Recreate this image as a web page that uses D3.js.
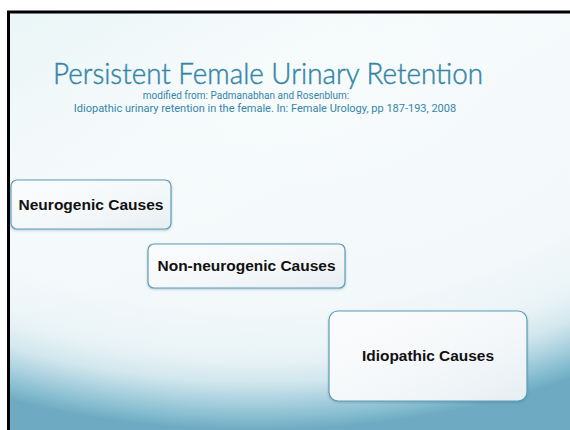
<!DOCTYPE html>
<html>
<head>
<meta charset="utf-8">
<script src="https://cdn.jsdelivr.net/npm/d3@7"></script>
<style>
  html, body { margin: 0; padding: 0; background: #fff; }
  svg { display: block; }
</style>
</head>
<body>
<svg id="slide" width="570" height="430"></svg>
<script>
"use strict";

// Slide texts
var title = "Persistent Female Urinary Retention";
var sourceLines = [
  "modified from: Padmanabhan and Rosenblum:",
  "Idiopathic urinary retention in the female. In: Female Urology, pp 187-193, 2008"
];
var causes = ["Neurogenic Causes", "Non-neurogenic Causes", "Idiopathic Causes"];

// Box layout (left, top, right, bottom), kept apart from the labels
var boxLeft = [11, 148, 329];
var boxTop = [180, 244, 311];
var boxRight = [171, 345, 527];
var boxBottom = [229, 288, 401];
var boxRadius = [6, 6, 9];

var svg = d3.select("#slide");
var defs = svg.append("defs");

// background: pale ellipse with blue sweeping round the bottom
var bg = defs.append("radialGradient")
  .attr("id", "bg")
  .attr("gradientUnits", "userSpaceOnUse")
  .attr("cx", 255).attr("cy", 30).attr("r", 400)
  .attr("gradientTransform", "translate(255,30) scale(1.6,1) translate(-255,-30)");
[[0, "#f7fbfc"], [0.7, "#f3f8fa"], [0.82, "#e9f3f6"], [0.88, "#d2e7ee"],
 [0.93, "#a9d0de"], [0.97, "#86bdd0"], [1, "#6eabc2"]].forEach(function(s) {
  bg.append("stop").attr("offset", s[0]).attr("stop-color", s[1]);
});

// faint cyan tint in the top left corner
var tint = defs.append("linearGradient")
  .attr("id", "tint")
  .attr("x1", 0).attr("y1", 0).attr("x2", 0.6).attr("y2", 0.6);
tint.append("stop").attr("offset", 0).attr("stop-color", "#e6f4f5").attr("stop-opacity", 0.8);
tint.append("stop").attr("offset", 1).attr("stop-color", "#ffffff").attr("stop-opacity", 0);

var boxFill = defs.append("linearGradient")
  .attr("id", "boxFill")
  .attr("x1", 0).attr("y1", 0).attr("x2", 1).attr("y2", 1);
boxFill.append("stop").attr("offset", 0).attr("stop-color", "#fbfcfd");
boxFill.append("stop").attr("offset", 0.6).attr("stop-color", "#f4f7f9");
boxFill.append("stop").attr("offset", 1).attr("stop-color", "#e6eef2");

var shadow = defs.append("filter").attr("id", "shadow")
  .attr("x", "-10%").attr("y", "-10%").attr("width", "120%").attr("height", "130%");
shadow.append("feDropShadow")
  .attr("dx", 0).attr("dy", 1).attr("stdDeviation", 0.8)
  .attr("flood-color", "#2a5a70").attr("flood-opacity", 0.3);

svg.append("rect")
  .attr("x", 9).attr("y", 12).attr("width", 561).attr("height", 418)
  .attr("fill", "url(#bg)");
svg.append("rect")
  .attr("x", 9).attr("y", 12).attr("width", 561).attr("height", 300)
  .attr("fill", "url(#tint)");

// frame lines
svg.append("line").attr("x1", 7).attr("x2", 570).attr("y1", 12).attr("y2", 12)
  .attr("stroke", "#000").attr("stroke-width", 3);
svg.append("line").attr("x1", 8.5).attr("x2", 8.5).attr("y1", 11).attr("y2", 430)
  .attr("stroke", "#000").attr("stroke-width", 3);

// title block
svg.append("text")
  .attr("x", 268).attr("y", 84)
  .attr("text-anchor", "middle")
  .attr("font-family", "Lato, 'Open Sans', sans-serif")
  .attr("font-weight", 300)
  .attr("font-size", 30)
  .attr("fill", "#3585a8")
  .attr("stroke", "#3585a8")
  .attr("stroke-width", 0.45)
  .attr("textLength", 430)
  .attr("lengthAdjust", "spacingAndGlyphs")
  .text(title);

var srcX = [246, 265];
var srcY = [99, 112];
var srcSize = [10, 11];
svg.selectAll("text.src")
  .data(sourceLines)
  .join("text")
  .attr("class", "src")
  .attr("x", function(d, i) { return srcX[i]; })
  .attr("y", function(d, i) { return srcY[i]; })
  .attr("text-anchor", "middle")
  .attr("font-family", "Roboto, 'Liberation Sans', sans-serif")
  .attr("font-size", function(d, i) { return srcSize[i]; })
  .attr("fill", "#3585a8")
  .text(function(d) { return d; });

// cause boxes
var labelW = [145, 178, 132];
var boxes = svg.selectAll("g.cause")
  .data(causes)
  .join("g")
  .attr("class", "cause");

boxes.append("rect")
  .attr("x", function(d, i) { return boxLeft[i]; })
  .attr("y", function(d, i) { return boxTop[i]; })
  .attr("width", function(d, i) { return boxRight[i] - boxLeft[i]; })
  .attr("height", function(d, i) { return boxBottom[i] - boxTop[i]; })
  .attr("rx", function(d, i) { return boxRadius[i]; })
  .attr("fill", "url(#boxFill)")
  .attr("stroke", "#5b9db8")
  .attr("stroke-width", 1.2)
  .attr("filter", "url(#shadow)");

boxes.append("text")
  .attr("x", function(d, i) { return (boxLeft[i] + boxRight[i]) / 2; })
  .attr("y", function(d, i) { return (boxTop[i] + boxBottom[i]) / 2; })
  .attr("dy", "0.36em")
  .attr("text-anchor", "middle")
  .attr("font-family", "'Liberation Sans', Arial, sans-serif")
  .attr("font-weight", "bold")
  .attr("font-size", 14.5)
  .attr("fill", "#111")
  .attr("textLength", function(d, i) { return labelW[i]; })
  .attr("lengthAdjust", "spacingAndGlyphs")
  .text(function(d) { return d; });
</script>
</body>
</html>
